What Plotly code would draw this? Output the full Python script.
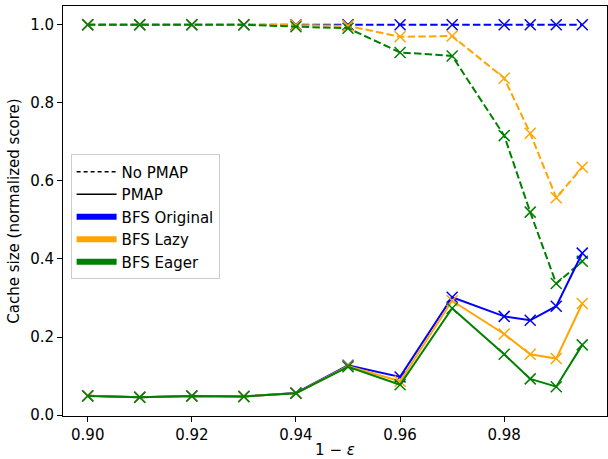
import plotly.graph_objects as go

x_vals = [0.90, 0.91, 0.92, 0.93, 0.94, 0.95, 0.96, 0.97, 0.98, 0.985, 0.99, 0.995]

orig_nopmap = [1.0, 1.0, 1.0, 1.0, 1.0, 1.0, 1.0, 1.0, 1.0, 1.0, 1.0, 1.0]
lazy_nopmap = [1.0, 1.0, 1.0, 1.0, 0.999, 0.997, 0.969, 0.971, 0.863, 0.722, 0.557, 0.635]
eager_nopmap = [1.0, 1.0, 1.0, 1.0, 0.995, 0.991, 0.929, 0.920, 0.716, 0.520, 0.337, 0.394]

orig_pmap = [0.050, 0.046, 0.049, 0.048, 0.057, 0.128, 0.098, 0.302, 0.253, 0.243, 0.279, 0.415]
lazy_pmap = [0.050, 0.046, 0.049, 0.048, 0.056, 0.126, 0.087, 0.293, 0.208, 0.156, 0.145, 0.286]
eager_pmap = [0.049, 0.046, 0.049, 0.048, 0.056, 0.124, 0.078, 0.274, 0.156, 0.093, 0.073, 0.180]

series_names = ["BFS Original", "BFS Lazy", "BFS Eager"]
colors = ["#0000ff", "#ffa500", "#008000"]
nopmap = [orig_nopmap, lazy_nopmap, eager_nopmap]
pmap = [orig_pmap, lazy_pmap, eager_pmap]

DASH = "7.5px,3.2px"
FONT = "DejaVu Sans"
FS = 15

fig = go.Figure()

for ys, c in zip(nopmap, colors):
    fig.add_trace(go.Scatter(
        x=x_vals, y=ys, mode="lines+markers", showlegend=False,
        line=dict(color=c, width=2, dash=DASH),
        marker=dict(symbol="x-thin", size=11, line=dict(color=c, width=1.5), color=c),
    ))
for ys, c in zip(pmap, colors):
    fig.add_trace(go.Scatter(
        x=x_vals, y=ys, mode="lines+markers", showlegend=False,
        line=dict(color=c, width=2),
        marker=dict(symbol="x-thin", size=11, line=dict(color=c, width=1.5), color=c),
    ))

# legend entries
fig.add_trace(go.Scatter(x=[None], y=[None], mode="lines", name="No PMAP",
                         line=dict(color="black", width=1.5, dash="4px,3px"), legendgroup="a"))
fig.add_trace(go.Scatter(x=[None], y=[None], mode="lines", name="PMAP",
                         line=dict(color="black", width=1.5), legendgroup="b"))
for i, (n, c) in enumerate(zip(series_names, colors)):
    fig.add_trace(go.Scatter(x=[None], y=[None], mode="lines", name=n,
                             line=dict(color=c, width=6), legendgroup="g%d" % i))

axis_common = dict(
    showline=True, linecolor="black", linewidth=1, mirror=True,
    ticks="outside", ticklen=5, tickwidth=1, tickcolor="black",
    showgrid=False, zeroline=False,
    tickfont=dict(family=FONT, size=FS, color="black"),
)

fig.update_layout(
    width=608, height=459,
    margin=dict(l=63, r=1, t=6, b=43),
    paper_bgcolor="white", plot_bgcolor="white",
    font=dict(family=FONT, size=FS, color="black"),
    xaxis=dict(range=[0.89525, 0.99975], tickvals=[0.90, 0.92, 0.94, 0.96, 0.98],
               tickformat=".2f",
               title=dict(text="1 − <i>ε</i>", font=dict(family=FONT, size=FS), standoff=4),
               **axis_common),
    yaxis=dict(range=[-0.0021, 1.0479], tickvals=[0.0, 0.2, 0.4, 0.6, 0.8, 1.0],
               tickformat=".1f",
               title=dict(text="Cache size (normalized score)", font=dict(family=FONT, size=FS), standoff=6),
               **axis_common),
    legend=dict(x=0.014, y=0.638, xanchor="left", yanchor="top",
                bgcolor="rgba(255,255,255,0.8)", bordercolor="#cccccc", borderwidth=1,
                font=dict(family=FONT, size=FS, color="black"),
                tracegroupgap=0, itemwidth=40),
)

fig.write_html("out.html")
